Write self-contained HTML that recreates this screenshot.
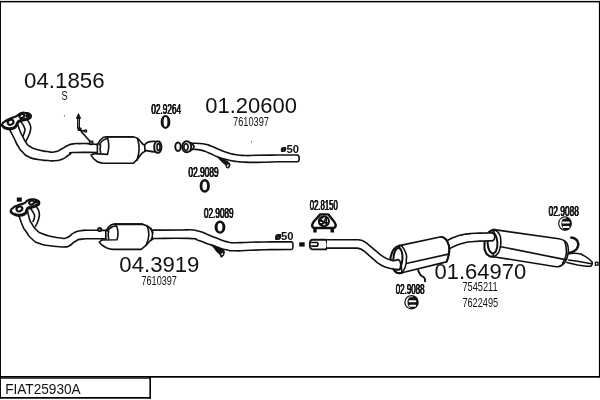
<!DOCTYPE html>
<html><head><meta charset="utf-8"><title>FIAT25930A</title>
<style>
html,body{margin:0;padding:0;background:#fff;}
body{width:600px;height:400px;overflow:hidden;position:relative;font-family:"Liberation Sans",sans-serif;}
svg{position:absolute;left:0;top:0;}
text{font-family:"Liberation Sans",sans-serif;fill:#111;}
#txt{position:absolute;left:0;top:0;width:600px;height:400px;will-change:transform;}
.t{position:absolute;left:0;top:0;display:block;white-space:nowrap;color:#111;transform-origin:0 0;font-family:"Liberation Sans",sans-serif;}
.h{text-shadow:0.6px 0 0 #111,-0.6px 0 0 #111;}
.p{fill:none;stroke:#111;stroke-width:1.6;stroke-linecap:round;stroke-linejoin:round;}
.pw{fill:#fff;stroke:#111;stroke-width:1.6;stroke-linecap:round;stroke-linejoin:round;}
.pw2{fill:#fff;stroke:#111;stroke-width:1.6;stroke-linecap:round;stroke-linejoin:round;}
.pf{fill:#111;stroke:#111;stroke-width:0.8;stroke-linejoin:round;}
.pk{fill:#fff;stroke:#111;stroke-width:2;}
.pk3{fill:#fff;stroke:#111;stroke-width:2.1;stroke-linejoin:round;}
.pk4{fill:#fff;stroke:#111;stroke-width:2.1;}
.pkw{fill:none;stroke:#111;stroke-width:2.1;stroke-linecap:round;}
.pkh{fill:none;stroke:#111;stroke-width:2.4;stroke-linecap:round;}
.pk5{fill:none;stroke:#111;stroke-width:3;}
.pwl{fill:none;stroke:#fff;stroke-width:0.5;}
.pk6{fill:#fff;stroke:#111;stroke-width:1.3;}
.pk2{fill:none;stroke:#111;stroke-width:1.9;stroke-linecap:round;stroke-linejoin:round;}
.ring{fill:#fff;stroke:#111;stroke-width:2.3;}
</style></head><body>
<svg width="600" height="400" viewBox="0 0 600 400">
<g fill="#000">
<rect x="0" y="0.9" width="600" height="1.5"/>
<rect x="0" y="0.9" width="0.95" height="397.8"/>
<rect x="598.9" y="0.9" width="1.1" height="376.8"/>
<rect x="0" y="376" width="600" height="1.7"/>
<rect x="0" y="377.6" width="151" height="1.1"/>
<rect x="149.4" y="377" width="1.6" height="21.7"/>
<rect x="0" y="397" width="151" height="1.7"/>
</g>
<g id="drawing">
<!-- front pipe 04.1856 -->
<path class="p" d="M21.0,121.6 C22.1,123.6 23.2,124.2 24.4,127.5 C25.6,130.8 25.1,128.7 24.6,131.5 C24.1,134.3 23.5,134.5 23.0,136.0"/>
<path class="p" d="M27.6,120.3 C28.5,121.9 29.3,121.7 30.2,125.1 C31.1,128.5 31.0,126.8 30.4,130.4 C29.8,134.0 30.0,132.4 28.5,136.0 C27.0,139.6 26.8,139.5 26.0,141.2"/>
<path class="p" d="M9.2,129.0 C10.8,132.0 11.1,132.3 14.0,138.0 C16.9,143.7 15.0,141.2 18.0,146.0 C21.0,150.8 19.3,148.8 23.0,152.5 C26.7,156.2 24.0,154.7 29.0,157.0 C34.0,159.3 31.7,158.3 38.0,159.5 C44.3,160.7 42.3,160.1 48.0,160.5 C53.7,160.9 50.3,161.1 55.0,160.7 C59.7,160.3 57.9,160.9 62.0,159.3 C66.1,157.7 64.4,157.9 67.3,156.0 C70.2,154.1 68.5,154.9 70.7,153.7 C72.9,152.5 65.3,152.9 74.0,152.5 C82.7,152.1 89.1,152.5 96.7,152.5"/>
<path class="p" d="M17.5,123.4 C18.3,125.9 18.2,126.5 20.0,131.0 C21.8,135.5 21.0,133.2 23.0,137.0 C25.0,140.8 23.7,139.3 26.0,142.5 C28.3,145.7 26.3,144.2 30.0,146.5 C33.7,148.8 31.3,147.8 37.0,149.5 C42.7,151.2 41.0,150.7 47.0,151.5 C53.0,152.3 50.0,152.7 55.0,151.8 C60.0,150.9 57.9,150.7 62.0,148.7 C66.1,146.7 63.5,147.3 67.3,145.7 C71.1,144.1 69.1,144.6 73.3,143.9 C77.5,143.2 74.9,143.7 80.0,143.6 C85.1,143.5 82.9,143.4 88.7,143.7 C94.5,144.0 94.4,144.2 97.3,144.4"/>
<path class="pk3" d="M2.6,125.0 C3.5,123.4 2.8,124.0 5.9,122.0 C9.0,120.0 8.0,120.7 11.9,119.0 C15.8,117.3 14.3,118.5 17.5,116.8 C20.7,115.1 18.5,114.9 21.5,114.0 C24.5,113.1 23.6,113.6 26.5,114.0 C29.4,114.4 28.7,114.2 30.1,115.2 C31.5,116.2 31.1,115.8 30.7,117.0 C30.3,118.2 30.6,117.8 28.9,118.8 C27.2,119.8 28.3,119.2 25.5,120.0 C22.7,120.8 23.0,120.1 20.4,121.2 C17.8,122.3 19.1,121.5 17.6,123.4 C16.1,125.3 17.8,125.1 15.8,127.0 C13.8,128.9 14.8,128.4 11.7,129.0 C8.6,129.6 9.5,129.5 6.6,128.8 C3.7,128.1 4.4,128.1 3.1,126.8 C1.8,125.5 1.7,126.6 2.6,125.0Z"/>
<path class="pk3" d="M2.3,124.0 C3.2,122.4 2.5,123.0 5.6,121.0 C8.7,119.0 7.7,119.7 11.6,118.0 C15.5,116.3 14.0,117.5 17.2,115.8 C20.4,114.1 18.2,113.9 21.2,113.0 C24.2,112.1 23.3,112.6 26.2,113.0 C29.1,113.4 28.4,113.2 29.8,114.2 C31.2,115.2 30.8,114.8 30.4,116.0 C30.0,117.2 30.3,116.8 28.6,117.8 C26.9,118.8 28.0,118.2 25.2,119.0 C22.4,119.8 22.7,119.1 20.1,120.2 C17.5,121.3 18.8,120.5 17.3,122.4 C15.8,124.3 17.5,124.1 15.5,126.0 C13.5,127.9 14.5,127.4 11.4,128.0 C8.3,128.6 9.2,128.5 6.3,127.8 C3.4,127.1 4.1,127.1 2.8,125.8 C1.5,124.5 1.4,125.6 2.3,124.0Z"/>
<ellipse class="pk4" cx="10.6" cy="122.2" rx="3.0" ry="2.4" transform="rotate(-25 10.6 122.2)"/>
<ellipse class="pk4" cx="21.9" cy="116.0" rx="2.5" ry="1.9" transform="rotate(-25 21.9 116.0)"/>
<ellipse class="pk4" cx="27.6" cy="115.4" rx="1.3" ry="1.0" transform="rotate(-25 27.6 115.4)"/>
<path class="pk5" d="M78.5,117.5 L78.5,128.5"/>
<path class="pwl" d="M78.5,119 L78.5,127"/>
<path class="pf" d="M76.3,118.4 L78.5,113.6 L80.7,118.4Z"/>
<rect x="77.6" y="127.4" width="3.9" height="3.7" rx="0.8" fill="#111"/>
<path class="p" d="M81,130.6 L84.6,130.9"/>
<ellipse class="pk6" cx="85.6" cy="131" rx="1.1" ry="1.0"/>
<path class="p" d="M81.3,131.6 L90.0,141.2"/>
<rect x="89.5" y="141.3" width="3.3" height="3.2" fill="#555" stroke="#111" stroke-width="1.3"/>
<rect x="63.9" y="115.3" width="1" height="1" fill="#222"/>
<!-- upper cat -->
<path class="p" d="M97.6,144.4 Q99.5,140 103,137.6 Q105,136.8 107,136.8 L133,136.8 Q138,137.6 141,142 Q142.5,144.4 144.5,145.1"/>
<path class="pk2" d="M106.5,136.9 L133,136.9"/>
<path class="p" d="M99.3,144.8 Q101,141.2 104.5,139.4 L107.3,138.5"/>
<path class="p" d="M94.5,153.6 L91,155 Q93,159 97,161.5 Q100,163 103,163.2 L133.4,163.2 Q137,160.5 140.5,155 Q142.3,152 145.3,151.3"/>
<path class="p" d="M107.5,137.4 Q110,146 107.5,154.4 L94.5,153.6"/>
<path class="p" d="M100.6,145 Q99.7,148.5 100.6,152.4"/>
<path class="p" d="M97.4,144.4 L97.4,152.6"/>
<path class="p" d="M137.4,138.3 Q141,149 137,160.2"/>
<path class="p" d="M144.6,144.8 Q146.3,142.3 150,141.6 L155,141.3"/>
<path class="p" d="M145,150.4 Q148,151 155,152"/>
<path class="p" d="M144.6,144.8 L145,151"/>
<ellipse class="pk" cx="157.8" cy="147" rx="3.6" ry="5.8"/>
<ellipse class="p" cx="158.5" cy="147" rx="1.5" ry="3.4"/>
<ellipse cx="165.5" cy="121.9" rx="4.9" ry="7.0" fill="#111"/>
<ellipse cx="165.5" cy="121.9" rx="1.9" ry="4.9" fill="#fff"/>
<ellipse cx="204.75" cy="185.9" rx="5.15" ry="6.8" fill="#111"/>
<ellipse cx="204.75" cy="185.9" rx="2.3" ry="4.3" fill="#fff"/>
<ellipse cx="220" cy="227.15" rx="5.4" ry="6.55" fill="#111"/>
<ellipse cx="220" cy="227.15" rx="2.4" ry="4.15" fill="#fff"/>
<!-- pipe 01.20600 -->
<path class="p" d="M191.0,143.3 C195.0,143.5 196.3,142.9 203.0,143.8 C209.7,144.7 205.7,144.1 211.0,146.0 C216.3,147.9 213.7,147.3 219.0,149.5 C224.3,151.7 221.7,150.8 227.0,152.5 C232.3,154.2 229.0,153.5 235.0,154.5 C241.0,155.5 237.7,155.2 245.0,155.5 C252.3,155.8 246.3,155.5 257.0,155.3 C267.7,155.1 270.5,155.1 277.2,155.0 L297.3,155 Q299.2,155.2 299.2,158.4 Q299.2,161.6 297.3,161.8 L277.2,161.8 277.2,161.8 C270.5,162.0 267.7,162.3 257.0,162.4 C246.3,162.5 251.7,162.4 245.0,162.1 C238.3,161.8 242.7,162.2 237.0,161.5 C231.3,160.8 234.3,161.5 228.0,160.0 C221.7,158.5 224.3,159.3 218.0,157.0 C211.7,154.7 214.7,155.3 209.0,153.0 C203.3,150.7 206.3,151.3 201.0,150.1 C195.7,148.9 195.7,149.6 193.0,149.3"/>
<ellipse class="pk" cx="186.7" cy="146.8" rx="4.5" ry="5.5"/>
<ellipse class="p" cx="186" cy="147" rx="2.1" ry="3.3"/>
<path class="p" d="M189.6,142.6 Q193.4,144.2 194.2,146.8 Q193.4,149.4 189.8,151.2"/>
<ellipse class="pk" cx="178" cy="146.8" rx="2.7" ry="4.2"/>
<path d="M217,156.6 L220.5,157.6 L229,162.4 L230.2,164.6 L229,167.8 L226.8,168 L225.6,165 L221.5,161.5 Z" fill="#111" stroke="#111" stroke-width="0.8" stroke-linejoin="round"/>
<ellipse cx="227.8" cy="165.6" rx="0.7" ry="1.4" fill="#fff" transform="rotate(15 227.8 165.6)"/>
<rect x="251" y="141.4" width="1" height="1" fill="#333"/>
<!-- front pipe 04.3919 -->
<path class="p" d="M30.5,208.5 C31.5,210.0 32.2,210.2 33.5,213.0 C34.8,215.8 34.7,214.2 34.5,217.0 C34.3,219.8 33.5,220.0 33.0,221.5"/>
<path class="p" d="M36.5,207.0 C37.3,208.7 38.3,208.0 39.0,212.0 C39.7,216.0 39.8,214.2 38.6,219.0 C37.4,223.8 36.5,224.0 35.5,226.5"/>
<path class="p" d="M19.0,216.0 C20.2,219.2 20.2,220.3 22.5,225.5 C24.8,230.7 22.8,227.0 26.0,231.5 C29.2,236.0 27.5,235.0 32.0,239.0 C36.5,243.0 33.5,241.2 39.5,243.5 C45.5,245.8 43.2,244.7 50.0,245.8 C56.8,246.9 55.0,246.3 60.0,246.7 C65.0,247.1 61.8,247.2 65.0,246.9 C68.2,246.6 66.0,247.6 69.5,245.7 C73.0,243.8 71.5,243.5 75.5,241.3 C79.5,239.1 76.0,239.9 81.5,239.1 C87.0,238.3 83.8,238.9 92.0,238.8 C100.2,238.7 101.3,238.8 106.0,238.8"/>
<path class="p" d="M27.5,210.5 C28.2,213.3 28.0,214.5 29.5,219.0 C31.0,223.5 29.7,220.3 32.0,224.0 C34.3,227.7 33.0,226.7 36.5,230.0 C40.0,233.3 37.0,231.5 42.5,233.8 C48.0,236.1 46.8,235.4 53.0,236.8 C59.2,238.2 57.0,237.5 61.0,238.0 C65.0,238.5 62.2,238.8 65.0,238.2 C67.8,237.6 66.5,238.0 69.5,236.2 C72.5,234.4 70.0,234.8 74.0,232.9 C78.0,231.0 75.5,231.5 81.5,230.6 C87.5,229.7 83.8,230.4 92.0,230.3 C100.2,230.2 101.3,230.4 106.0,230.4"/>
<path class="pk3" d="M11.3,211.2 C12.0,209.7 11.3,210.3 13.7,208.6 C16.1,206.9 15.0,207.7 18.5,206.2 C22.0,204.7 21.0,205.9 24.3,204.2 C27.6,202.5 25.5,202.5 28.5,201.2 C31.5,199.9 30.2,200.2 33.3,200.3 C36.4,200.4 35.9,200.5 37.9,201.6 C39.9,202.7 39.5,202.2 39.2,203.6 C38.9,205.0 39.4,204.4 37.1,205.7 C34.8,207.0 35.2,206.6 32.3,207.6 C29.4,208.6 30.2,207.5 28.3,208.7 C26.4,209.9 27.7,209.4 26.6,211.2 C25.5,213.0 27.2,212.6 25.1,214.1 C23.0,215.6 23.7,215.5 20.3,215.8 C16.9,216.1 17.9,215.8 15.0,214.9 C12.1,214.0 12.9,214.2 11.7,213.0 C10.5,211.8 10.6,212.7 11.3,211.2Z"/>
<path class="pk3" d="M11.0,210.2 C11.7,208.7 11.0,209.3 13.4,207.6 C15.8,205.9 14.7,206.7 18.2,205.2 C21.7,203.7 20.7,204.9 24.0,203.2 C27.3,201.5 25.2,201.5 28.2,200.2 C31.2,198.9 29.9,199.2 33.0,199.3 C36.1,199.4 35.6,199.5 37.6,200.6 C39.6,201.7 39.2,201.2 38.9,202.6 C38.6,204.0 39.1,203.4 36.8,204.7 C34.5,206.0 34.9,205.6 32.0,206.6 C29.1,207.6 29.9,206.5 28.0,207.7 C26.1,208.9 27.4,208.4 26.3,210.2 C25.2,212.0 26.9,211.6 24.8,213.1 C22.7,214.6 23.4,214.5 20.0,214.8 C16.6,215.1 17.6,214.8 14.7,213.9 C11.8,213.0 12.6,213.2 11.4,212.0 C10.2,210.8 10.3,211.7 11.0,210.2Z"/>
<ellipse class="pk4" cx="19.4" cy="208.9" rx="3.0" ry="2.3" transform="rotate(-25 19.4 208.9)"/>
<ellipse class="pk4" cx="31.6" cy="202.6" rx="2.5" ry="1.9" transform="rotate(-25 31.6 202.6)"/>
<ellipse class="pk4" cx="36.3" cy="201.6" rx="1.2" ry="0.9" transform="rotate(-25 36.3 201.6)"/>
<rect x="16.8" y="197.5" width="5" height="4.2" fill="#111"/>
<ellipse class="pk" cx="99.7" cy="229.5" rx="1.5" ry="1.5"/>
<!-- lower cat -->
<path class="p" d="M106.2,230.6 Q107.6,227.6 111,225 Q113,224.1 115,224.1 L142,224.1 Q147.2,225.3 150.7,228.4 Q152.6,230.5 153,233"/>
<path class="pk2" d="M114.5,224.2 L142,224.2"/>
<path class="p" d="M107.6,231 Q109.3,228.6 112.2,226.8 L116,226"/>
<path class="p" d="M101.7,240 L99.3,242.4 Q101,245 106.3,247.7 Q110,249.2 113.3,249.4 L141.3,249.4 Q146,245.8 149.5,241.6 Q150.8,240 152.8,239.3"/>
<path class="p" d="M116.2,225 Q119.4,232.5 117,239.7 L101.7,240"/>
<path class="p" d="M108.6,231.3 Q107.7,235 108.6,238.6"/>
<path class="p" d="M105.8,230.6 L105.8,238.8"/>
<path class="p" d="M147,225.8 Q151.2,234 146,245.4"/>
<path class="p" d="M150.4,228.4 Q154.4,234.4 151,240.4"/>
<path class="p" d="M152.8,230.1 C162.5,230.1 169.6,230.1 182.0,230.0 C194.4,229.9 184.0,229.3 190.0,229.8 C196.0,230.3 193.3,229.7 200.0,231.6 C206.7,233.5 203.3,232.9 210.0,235.5 C216.7,238.1 214.0,237.3 220.0,239.5 C226.0,241.7 223.0,240.9 228.0,242.0 C233.0,243.1 227.7,242.7 235.0,242.8 C242.3,242.9 238.3,242.5 250.0,242.2 C261.7,241.9 263.3,242.0 270.0,241.9 L291.8,241.9 Q293,242.1 293,245.6 Q293,249.1 291.8,249.4 L270,249.6 270.0,249.6 C263.3,249.8 261.7,249.9 250.0,250.3 C238.3,250.7 243.0,251.0 235.0,250.8 C227.0,250.6 231.7,250.9 226.0,249.8 C220.3,248.7 224.0,249.4 218.0,247.5 C212.0,245.6 214.7,246.4 208.0,244.0 C201.3,241.6 204.7,242.1 198.0,240.2 C191.3,238.3 203.1,239.0 188.0,238.4 C172.9,237.8 164.5,238.5 152.8,238.5"/>
<path d="M211.5,244.4 L215,245.8 L223,249.4 L224.6,252 L223.6,255.6 L221,257.4 L220,254.5 L216.5,251.5 Z" fill="#111" stroke="#111" stroke-width="0.8" stroke-linejoin="round"/>
<ellipse cx="222.2" cy="254" rx="0.7" ry="1.3" fill="#fff" transform="rotate(20 222.2 254)"/>
<rect x="299.2" y="242.3" width="5.5" height="4.3" fill="#111"/>
<!-- sleeve -->
<path class="pk2" d="M326,239.8 L312.3,239.8 Q309.8,240 309.8,244.6 Q309.8,249.2 312.3,249.4 L326,249.4"/>
<path class="p" d="M311.7,242.5 L317.3,242.5 Q318.9,244.3 317.3,246.1 L311.7,246.1"/>
<path class="p" d="M326,239.8 Q328.6,244.6 326,249.4"/>
<!-- clamp -->
<path d="M320.2,214.4 L328.4,214.4 L333,220.2 Q335.6,223 335.8,225.2 Q335.6,227.6 333.5,228 L314.3,228 Q312.2,227.6 312.1,225.2 Q312.3,223 315,220.2 Z" fill="#fff" stroke="#111" stroke-width="2.4" stroke-linejoin="round"/>
<circle cx="323.9" cy="221.3" r="5" fill="#fff" stroke="#111" stroke-width="2.1"/>
<rect x="313.2" y="228.6" width="3.5" height="3.9" fill="#111"/>
<rect x="330.5" y="228.6" width="3.5" height="3.9" fill="#111"/>
<!-- middle muffler -->
<path class="pw" d="M399.4,245.6 L441.2,236.8 Q446.5,238.2 448.6,244.5 Q450,252 447.2,260.4 L446.4,261.9 L401.9,272.7 Z"/>
<path class="pk2" d="M441.3,236.9 C442.6,237.5 443.1,236.6 445.3,238.7 C447.5,240.8 446.7,240.0 448.0,243.3 C449.3,246.6 449.1,244.7 449.3,248.7 C449.5,252.7 449.6,251.0 448.7,255.3 C447.8,259.6 447.3,259.5 446.6,261.6"/>
<path class="pkw" d="M401.9,272.9 C400.6,272.9 400.5,273.8 398.0,273.0 C395.5,272.2 396.6,273.0 394.5,270.5 C392.4,268.0 393.1,269.0 391.8,265.5 C390.5,262.0 390.9,263.5 390.7,260.0 C390.5,256.5 390.1,258.7 391.3,255.0 C392.5,251.3 391.7,251.9 394.4,248.8 C397.1,245.7 397.7,246.7 399.4,245.6"/>
<path class="p" d="M401.2,245.4 C402.7,247.8 403.9,247.6 405.6,252.5 C407.3,257.4 406.5,255.0 406.3,260.0 C406.1,265.0 406.5,263.3 405.0,267.5 C403.5,271.7 402.9,271.0 401.9,272.7"/>
<path class="p" d="M407.3,263.3 L448.3,254.1"/>
<ellipse class="pk" cx="397.9" cy="258.8" rx="4.5" ry="10.9" transform="rotate(4 397.9 258.8)"/>
<!-- middle pipe -->
<path d="M327,239.7 L358.5,239.7 Q362.5,239.9 366,242.6 L380,254.4 Q386.5,259.6 393,260.6 Q396,260.6 398.1,259.5 Q400.3,260.5 400.7,264 Q400.8,267.5 399.6,269.6 L392.7,269 Q384,267.8 377.3,262.7 L364.5,251.4 Q361,248.4 357.5,248.1 L327,248.1 Z" fill="#fff" stroke="none"/>
<path class="p" d="M327,239.7 L358.5,239.7 Q362.5,239.9 366,242.6 L380,254.4 Q386.5,259.6 393,260.6 Q396,260.6 398.1,259.5 Q400.3,260.5 400.7,264 Q400.8,267.5 399.6,269.6"/>
<path class="p" d="M327,248.1 L357.5,248.1 Q361,248.4 364.5,251.4 L377.3,262.7 Q384,267.8 392.7,269 L399.6,269.6"/>
<path class="pk2" d="M393.2,268.9 C394.2,270.0 394.0,270.9 396.3,272.3 C398.6,273.7 398.8,272.8 400.0,273.0"/>
<path class="pk2" d="M418.1,270.0 C418.5,271.0 418.3,271.2 419.4,273.1 C420.5,275.0 419.6,273.9 421.3,275.6 C423.0,277.3 423.2,276.2 424.4,278.1 C425.6,280.0 424.8,280.2 425.0,281.2"/>
<!-- rear muffler -->
<path class="pw" d="M494,229.6 L558.75,238.75 Q564.5,239.8 566.9,243.1 Q568.6,246.5 568.3,251.5 Q567.8,258 565.4,261.6 Q563,265.6 558.5,266.6 L556.2,266.8 L493.3,256.7 Z"/>
<path class="pkw" d="M494.0,229.6 C492.3,230.4 491.8,229.1 489.0,232.0 C486.2,234.9 487.1,233.8 485.6,238.2 C484.1,242.6 484.6,240.9 484.5,245.3 C484.4,249.7 484.0,247.9 485.4,251.3 C486.8,254.7 486.1,253.8 488.7,255.6 C491.3,257.4 491.8,256.3 493.3,256.7"/>
<path class="p" d="M494.0,229.6 C495.6,230.8 496.5,229.8 498.7,233.3 C500.9,236.8 500.3,235.1 500.7,240.0 C501.1,244.9 501.1,243.3 500.0,248.0 C498.9,252.7 499.5,251.1 497.3,254.0 C495.1,256.9 494.6,255.8 493.3,256.7"/>
<path class="p" d="M500.7,246.7 L565.3,259.6"/>
<path class="p" d="M564.6,241 Q566.8,246.5 566.3,254 Q565.3,259.5 562.6,263.2"/>
<ellipse class="pk" cx="492.5" cy="242.9" rx="4.9" ry="10.6" transform="rotate(-3 492.5 242.9)"/>
<!-- outlet pipe to rear muffler -->
<path d="M447.6,240.4 C449.7,239.4 449.2,239.1 454.0,237.3 C458.8,235.5 456.7,236.1 462.0,234.9 C467.3,233.7 464.0,234.2 470.0,233.6 C476.0,233.0 472.6,233.3 480.0,233.1 C487.4,232.9 488.1,233.0 492.2,232.9 Q494.6,233.4 494.8,236.8 Q494.8,240.2 492.4,240.8 492.4,240.8 C489.6,240.9 490.1,240.8 484.0,241.0 C477.9,241.2 480.4,240.9 474.0,241.5 C467.6,242.1 470.5,241.5 464.7,242.8 C458.9,244.1 461.6,243.4 456.7,245.3 C451.8,247.2 452.2,247.4 450.0,248.5Z" fill="#fff" stroke="none"/>
<path class="p" d="M447.6,240.4 C449.7,239.4 449.2,239.1 454.0,237.3 C458.8,235.5 456.7,236.1 462.0,234.9 C467.3,233.7 464.0,234.2 470.0,233.6 C476.0,233.0 472.6,233.3 480.0,233.1 C487.4,232.9 488.1,233.0 492.2,232.9 Q494.6,233.4 494.8,236.8 Q494.8,240.2 492.4,240.8"/>
<path class="p" d="M450.0,248.5 C452.2,247.4 451.8,247.2 456.7,245.3 C461.6,243.4 458.9,244.1 464.7,242.8 C470.5,241.5 467.6,242.1 474.0,241.5 C480.4,240.9 477.9,241.2 484.0,241.0 C490.1,240.8 489.6,240.9 492.4,240.8"/>
<path class="pkh" d="M571.3,237.6 C572.5,238.0 572.8,237.2 575.0,238.8 C577.2,240.4 577.1,239.6 577.9,242.5 C578.7,245.4 578.8,244.6 577.4,247.5 C576.0,250.4 576.6,249.4 573.8,251.2 C571.0,253.0 570.5,252.4 568.9,253.0"/>
<path class="p" d="M568.8,253.7 C571.7,253.6 572.5,252.9 577.5,253.5 C582.5,254.1 579.6,253.4 583.8,255.6 C588.0,257.8 587.2,257.5 590.0,260.0 C592.8,262.5 591.9,261.1 592.2,263.1 C592.5,265.1 591.4,265.1 591.0,266.1 L586.2,266.2 L577.5,265 L566.9,262.5"/>
<path class="p" d="M568.6,260 L577.5,261.2 L591.4,263.7"/>
<rect x="595.4" y="262.3" width="2.6" height="2.9" fill="#fff" stroke="#111" stroke-width="1.3"/>
<ellipse cx="565" cy="223.6" rx="6.9" ry="7.3" fill="#111"/>
<ellipse cx="564.8" cy="223.6" rx="5.5" ry="6.0" fill="#fff"/>
<ellipse cx="566.3" cy="223.7" rx="5.0" ry="6.3" fill="#111"/>
<rect x="562.8" y="217.8" width="3.8" height="0.9" rx="0.4" fill="#ddd"/>
<rect x="562.1" y="221.6" width="7.7" height="2.0" rx="0.9" fill="#fff"/>
<rect x="562.6" y="226.1" width="7.0" height="2.0" rx="0.9" fill="#fff"/>
<ellipse cx="411.5" cy="302.2" rx="7.2" ry="7.3" fill="#111"/>
<ellipse cx="411.3" cy="302.2" rx="5.8" ry="6.0" fill="#fff"/>
<ellipse cx="412.8" cy="302.3" rx="5.3" ry="6.3" fill="#111"/>
<rect x="409.3" y="296.4" width="3.8" height="0.9" rx="0.4" fill="#ddd"/>
<rect x="408.6" y="300.2" width="7.7" height="2.0" rx="0.9" fill="#fff"/>
<rect x="409.1" y="304.7" width="7.0" height="2.0" rx="0.9" fill="#fff"/>
</g>
<g id="labels">

</g>
</svg>
<div id="txt">
<span class="t" style="font-size:21.60px;line-height:21.60px;transform:translate(24.06px,70.22px) scale(1.0308,1);">04.1856</span>
<span class="t" style="font-size:12.20px;line-height:12.20px;transform:translate(61.54px,90.17px) scale(0.7555,1);">S</span>
<span class="t h" style="font-size:14.40px;line-height:14.40px;transform:translate(151.32px,102.31px) scale(0.5720,1);">02.9264</span>
<span class="t" style="font-size:21.60px;line-height:21.60px;transform:translate(205.17px,95.22px) scale(1.0187,1);">01.20600</span>
<span class="t" style="font-size:12.90px;line-height:12.90px;transform:translate(233.09px,115.58px) scale(0.7138,1);">7610397</span>
<span class="t h" style="font-size:14.40px;line-height:14.40px;transform:translate(188.42px,165.31px) scale(0.5803,1);">02.9089</span>
<span class="t h" style="font-size:14.40px;line-height:14.40px;transform:translate(203.92px,206.31px) scale(0.5705,1);">02.9089</span>
<span class="t" style="font-size:21.60px;line-height:21.60px;transform:translate(119.36px,254.22px) scale(1.0256,1);">04.3919</span>
<span class="t" style="font-size:12.90px;line-height:12.90px;transform:translate(141.49px,274.58px) scale(0.7057,1);">7610397</span>
<span class="t h" style="font-size:14.40px;line-height:14.40px;transform:translate(309.74px,198.31px) scale(0.5402,1);">02.8150</span>
<span class="t" style="font-size:21.60px;line-height:21.60px;transform:translate(434.47px,261.22px) scale(1.0176,1);">01.64970</span>
<span class="t" style="font-size:12.90px;line-height:12.90px;transform:translate(462.39px,280.58px) scale(0.7148,1);">7545211</span>
<span class="t" style="font-size:12.90px;line-height:12.90px;transform:translate(462.39px,296.58px) scale(0.7120,1);">7622495</span>
<span class="t h" style="font-size:14.40px;line-height:14.40px;transform:translate(548.72px,204.31px) scale(0.5795,1);">02.9088</span>
<span class="t h" style="font-size:14.40px;line-height:14.40px;transform:translate(395.73px,282.31px) scale(0.5540,1);">02.9088</span>
<span class="t" style="font-size:10.40px;line-height:10.40px;transform:translate(286.61px,144.70px) scale(1.0817,1);font-weight:bold;">50</span>
<span class="t" style="font-size:10.40px;line-height:10.40px;transform:translate(280.91px,231.70px) scale(1.0817,1);font-weight:bold;">50</span>
<span class="t h" style="font-size:11.40px;line-height:11.40px;transform:translate(320.05px,215.85px) scale(0.5794,1);font-weight:bold;">54</span>
<span class="t h" style="font-size:9.80px;line-height:9.80px;transform:translate(280.94px,144.20px) scale(0.8414,1);font-weight:bold;font-style:italic;">ø</span>
<span class="t h" style="font-size:11.60px;line-height:11.60px;transform:translate(275.22px,229.68px) scale(0.8016,1);font-weight:bold;font-style:italic;">ø</span>
<span class="t" style="font-size:13.90px;line-height:13.90px;transform:translate(5.16px,382.73px) scale(0.9816,1);">FIAT25930A</span>
</div>
</body></html>
